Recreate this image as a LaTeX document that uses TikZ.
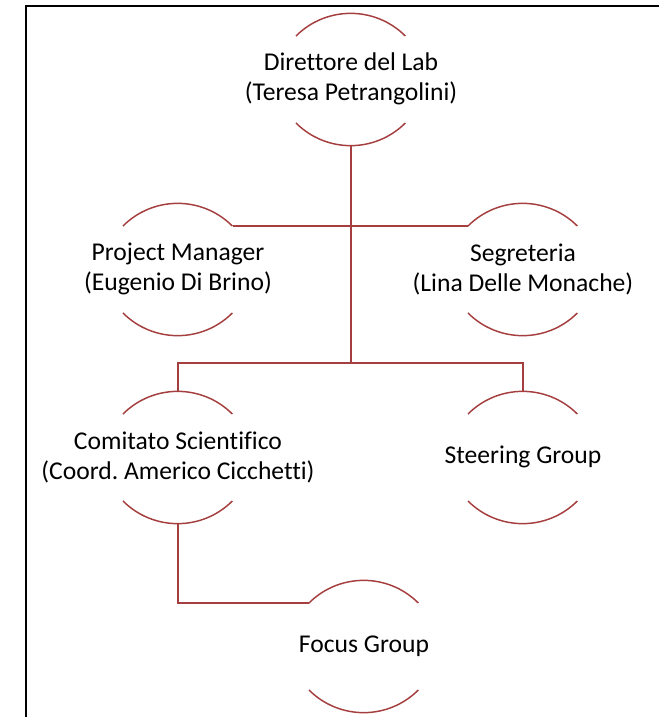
\documentclass[tikz,border=0pt]{standalone}
\usepackage{fontspec}
\setmainfont{Carlito}[Ligatures=NoCommon]
\frenchspacing
\definecolor{orgred}{RGB}{165,62,62}
\tikzset{
  arcline/.style={draw=orgred,line width=1.1pt},
  link/.style={draw=orgred,line width=1.1pt},
  trunk/.style={draw=orgred,line width=1.8pt},
  frame/.style={draw=black,line width=1.5pt},
  unit/.style={align=center,inner sep=0pt,font=\fontsize{19.2}{22.5}\selectfont},
}
\def\orgunit#1#2#3#4{
  % 1: name
  % 2: x of centre
  % 3: y of top arc
  % 4: text
  \begin{scope}[shift={(#2,#3)}]
    \draw[arcline] (-55,23) arc[start angle=225,end angle=315,radius=77.3];
    \draw[arcline] (-55,110) arc[start angle=135,end angle=45,radius=77.3];
    \coordinate (#1-top) at (0,0);
    \coordinate (#1-bot) at (0,133);
    \coordinate (#1-left) at (-55,23);
    \coordinate (#1-right) at (55,23);
    \node[unit] (#1) at (0,66) {#4};
  \end{scope}
}
\begin{document}
\begin{tikzpicture}[x=0.75pt,y=-0.75pt]
  \useasboundingbox (0,0) rectangle (659,717);
  \draw[frame] (26,717) -- (26,6) -- (659,6);
  % \orgunit{name}{x}{y}{text}
  \orgunit{dir}{351}{13}{Direttore del Lab\\(Teresa Petrangolini)}
  \orgunit{pm}{178}{203}{Project Manager\\(Eugenio Di Brino)}
  \orgunit{seg}{523}{203}{Segreteria\\(Lina Delle Monache)}
  \orgunit{cs}{178}{391}{Comitato Scientifico\\(Coord. Americo Cicchetti)}
  \orgunit{sg}{523}{391}{Steering Group}
  \orgunit{fg}{364}{580}{Focus Group}
  \coordinate (fork) at (351,363);
  \draw[link] (pm-right) -- (seg-left);
  \draw[trunk] (dir-bot) -- (fork);
  \draw[link] (cs-top) |- (fork) -| (sg-top);
  \draw[link] (cs-bot) |- (fg-left);
\end{tikzpicture}
\end{document}
